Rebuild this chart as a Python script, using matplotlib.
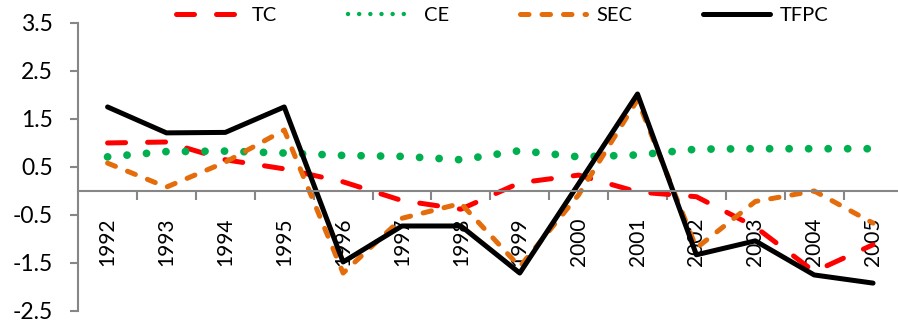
import numpy as np
import matplotlib.pyplot as plt

plt.rcParams['font.family'] = ['Lato', 'DejaVu Sans']

years = ['1992', '1993', '1994', '1995', '1996', '1997', '1998',
         '1999', '2000', '2001', '2002', '2003', '2004', '2005']
tc = [1.00, 1.02, 0.65, 0.46, 0.19, -0.20, -0.38, 0.17, 0.33, -0.02, -0.12, -0.75, -1.68, -1.12]
ce = [0.71, 0.82, 0.83, 0.79, 0.74, 0.72, 0.65, 0.84, 0.71, 0.75, 0.87, 0.88, 0.88, 0.88]
sec = [0.58, 0.08, 0.60, 1.27, -1.71, -0.57, -0.26, -1.58, -0.08, 1.90, -1.19, -0.22, 0.00, -0.67]
tfpc = [1.75, 1.21, 1.22, 1.75, -1.48, -0.73, -0.73, -1.71, 0.15, 2.02, -1.33, -1.04, -1.75, -1.92]

x = np.arange(len(years))

fig = plt.figure(figsize=(8.98, 3.28), dpi=100)
ax = fig.add_axes([0.087, 0.052, 0.918, 0.878])

ax.plot(x, tc, color='#FF0000', lw=3.6, ls=(0, (3.6, 4.4)), dash_capstyle='round', label='TC')
ax.plot(x, ce, color='#00B050', lw=5.6, ls=(0, (0.01, 2.5)), dash_capstyle='round', label='CE')
ax.plot(x, sec, color='#E46C0A', lw=3.6, ls=(0, (1.7, 2.6)), dash_capstyle='round', label='SEC')
ax.plot(x, tfpc, color='black', lw=3.6, solid_capstyle='round', label='TFPC')

ax.set_xlim(-0.5, len(years) - 0.5)
ax.set_ylim(-2.5, 3.5)
ax.set_yticks([-2.5, -1.5, -0.5, 0.5, 1.5, 2.5, 3.5])
ax.set_yticklabels(['-2.5', '-1.5', '-0.5', '0.5', '1.5', '2.5', '3.5'], fontsize=16.5)

ax.spines['top'].set_visible(False)
ax.spines['right'].set_visible(False)
ax.spines['bottom'].set_position(('data', 0))
for s in ['left', 'bottom']:
    ax.spines[s].set_color('#868686')
    ax.spines[s].set_linewidth(1.5)

ax.tick_params(axis='y', direction='out', length=6, width=1.5, color='#868686', pad=12)
ax.set_xticks(x)
ax.set_xticklabels(years, rotation=90, fontsize=15, va='top')
ax.tick_params(axis='x', which='major', length=0, pad=19)
ax.set_xticks(np.arange(0.5, len(years) - 0.5, 1), minor=True)
ax.tick_params(axis='x', which='minor', direction='out', length=6.5, width=1.5, color='#868686')

leg = fig.legend(loc='center', bbox_to_anchor=(0.559, 0.954), ncol=4, frameon=False,
                 fontsize=14.5, handlelength=3.3, columnspacing=3.5, handletextpad=0.5,
                 borderaxespad=0, borderpad=0)
# legend dots are smaller in the original
leg.get_lines()[1].set_linewidth(3.2)

fig.savefig('out.png', dpi=100)
